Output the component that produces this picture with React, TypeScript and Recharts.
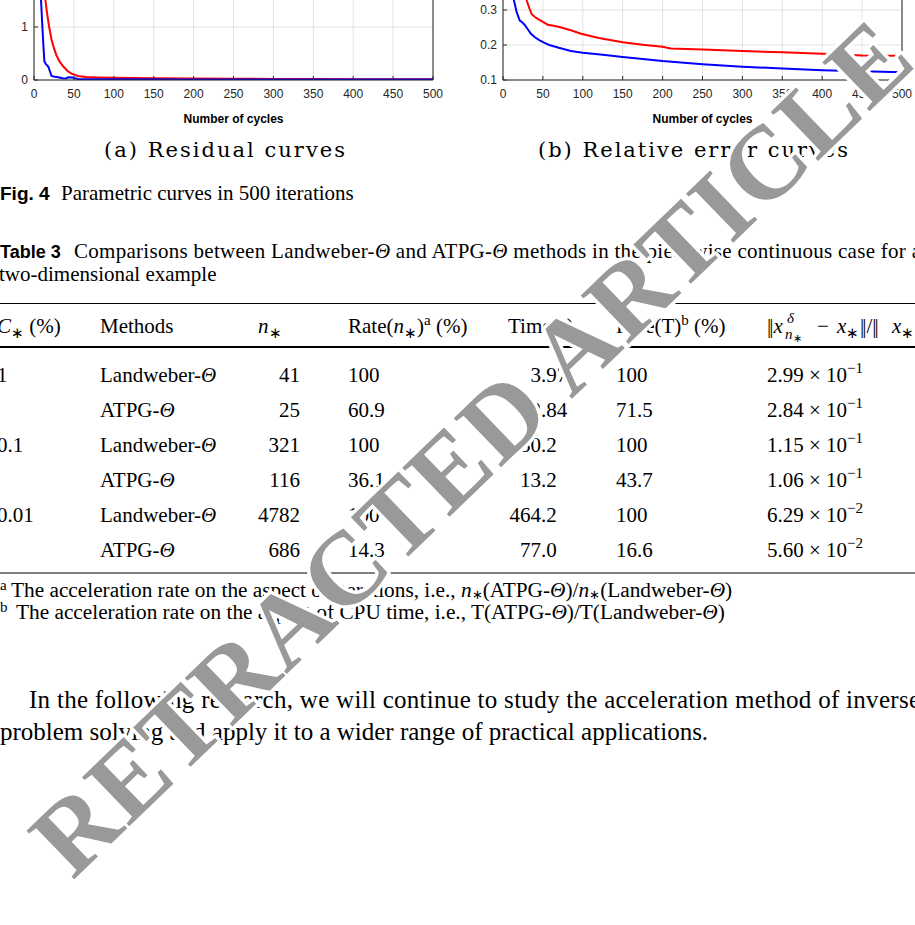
import { LineChart, Line, XAxis, YAxis, CartesianGrid, ReferenceLine } from "recharts"

// ---- chart data ----
const cycleTicks = [0, 50, 100, 150, 200, 250, 300, 350, 400, 450, 500]

const residualTicks = [0, 1, 2, 3]
const residualRedCycles = [0, 4, 8, 11, 14, 16, 19, 22, 25, 28, 32, 37, 42, 47, 55, 65, 80, 100, 150, 200, 250, 300, 350, 400, 450, 500]
const residualRed = [2.95, 2.75, 2.4, 2.0, 1.55, 1.3, 1.0, 0.76, 0.6, 0.47, 0.35, 0.25, 0.17, 0.12, 0.075, 0.055, 0.047, 0.042, 0.035, 0.03, 0.025, 0.021, 0.018, 0.016, 0.015, 0.014]
const residualBlueCycles = [0, 3, 6, 8, 9, 10.5, 12, 13, 15, 18, 20, 22, 26, 30, 36, 40, 43, 48, 55, 70, 100, 200, 300, 400, 500]
const residualBlue = [2.95, 2.6, 2.1, 1.7, 1.45, 1.0, 0.6, 0.35, 0.3, 0.25, 0.16, 0.075, 0.06, 0.05, 0.035, 0.03, 0.05, 0.045, 0.02, 0.015, 0.012, 0.01, 0.009, 0.008, 0.008]

const errorTicks = [0.1, 0.2, 0.3, 0.4, 0.5, 0.6]
const errorRedCycles = [0, 10, 20, 26, 30, 33, 36, 40, 44, 50, 56, 65, 73, 85, 98, 120, 150, 175, 200, 210, 250, 300, 350, 400, 450, 500]
const errorRed = [0.58, 0.5, 0.42, 0.36, 0.325, 0.305, 0.288, 0.28, 0.274, 0.266, 0.258, 0.254, 0.25, 0.242, 0.232, 0.22, 0.208, 0.201, 0.195, 0.19, 0.187, 0.183, 0.179, 0.175, 0.17, 0.169]
const errorBlueCycles = [0, 5, 10, 14, 17, 21, 24, 27, 31, 35, 40, 46, 52, 58, 70, 85, 100, 125, 150, 175, 200, 250, 300, 350, 400, 450, 500]
const errorBlue = [0.55, 0.45, 0.37, 0.325, 0.295, 0.27, 0.265, 0.258, 0.245, 0.232, 0.222, 0.213, 0.206, 0.2, 0.192, 0.183, 0.178, 0.172, 0.166, 0.16, 0.154, 0.145, 0.138, 0.133, 0.128, 0.125, 0.122]

// ---- table 3 ----
const noiseLevels = ["1", "", "0.1", "", "0.01", ""]
const methodNames = ["Landweber", "ATPG", "Landweber", "ATPG", "Landweber", "ATPG"]
const iterations = ["41", "25", "321", "116", "4782", "686"]
const iterRates = ["100", "60.9", "100", "36.1", "100", "14.3"]
const cpuTimes = ["3.97", "2.84", "30.2", "13.2", "464.2", "77.0"]
const timeRates = ["100", "71.5", "100", "43.7", "100", "16.6"]
const errMantissa = ["2.99", "2.84", "1.15", "1.06", "6.29", "5.60"]
const errExponent = ["−1", "−1", "−1", "−1", "−2", "−2"]

const SERIF = "'Liberation Serif', 'Times New Roman', serif"
const SANS = "'Liberation Sans', Arial, sans-serif"
const CAPTION = "'DejaVu Serif', serif"
const AXIS = "#262626"
const GRID = "#e2e2e2"

const pts = (xs: number[], ys: number[]) => xs.map((x, i) => ({ x, y: ys[i] }))

function CurvePanel(props: {
    left: number
    top: number
    height: number
    yWidth: number
    marginRight: number
    yDomain: [number, number]
    yTicks: number[]
    fmt: (v: number) => string
    red: { x: number; y: number }[]
    blue: { x: number; y: number }[]
}) {
    const { left, top, height, yWidth, marginRight, yDomain, yTicks, fmt, red, blue } = props
    return (
        <div style={{ position: "absolute", left, top }}>
            <LineChart width={460} height={height} margin={{ top: 6, right: marginRight, left: 4, bottom: 0 }}>
                <CartesianGrid stroke={GRID} />
                <XAxis
                    type="number"
                    dataKey="x"
                    domain={[0, 500]}
                    ticks={cycleTicks}
                    interval={0}
                    allowDataOverflow
                    height={50}
                    tickSize={-4}
                    tickMargin={13}
                    tickLine={{ stroke: AXIS }}
                    axisLine={{ stroke: AXIS }}
                    tick={{ fill: AXIS, fontSize: 12, fontFamily: SANS }}
                    label={{
                        value: "Number of cycles",
                        position: "insideBottom",
                        offset: 7,
                        fill: "#000",
                        fontSize: 12,
                        fontWeight: "bold",
                        fontFamily: SANS,
                    }}
                />
                <YAxis
                    type="number"
                    domain={yDomain}
                    ticks={yTicks}
                    interval={0}
                    allowDataOverflow
                    width={yWidth}
                    tickSize={-4}
                    tickMargin={10}
                    tickFormatter={fmt}
                    tickLine={{ stroke: AXIS }}
                    axisLine={{ stroke: AXIS }}
                    tick={{ fill: AXIS, fontSize: 12, fontFamily: SANS }}
                />
                <ReferenceLine x={500} stroke={AXIS} />
                <Line data={red} dataKey="y" type="linear" stroke="#ff0000" strokeWidth={2} dot={false} isAnimationActive={false} />
                <Line data={blue} dataKey="y" type="linear" stroke="#0000ff" strokeWidth={2} dot={false} isAnimationActive={false} />
            </LineChart>
        </div>
    )
}

const rowBase = [382, 417, 452, 487, 522, 557]
const SUB = 15

// double bar drawn from two plain bars so no fallback font is needed
function Norm() {
    return <tspan letterSpacing={-2}>|</tspan>
}

export default function App() {
    return (
        <div style={{ position: "absolute", left: 0, top: 0, width: 915, height: 925, overflow: "hidden", background: "#fff" }}>
            <CurvePanel
                left={0}
                top={-85}
                height={215}
                yWidth={30}
                marginRight={27}
                yDomain={[0, 3]}
                yTicks={residualTicks}
                fmt={(v) => String(v)}
                red={pts(residualRedCycles, residualRed)}
                blue={pts(residualBlueCycles, residualBlue)}
            />
            <CurvePanel
                left={455}
                top={-101}
                height={231}
                yWidth={44}
                marginRight={13}
                yDomain={[0.1, 0.6]}
                yTicks={errorTicks}
                fmt={(v) => v.toFixed(1)}
                red={pts(errorRedCycles, errorRed)}
                blue={pts(errorBlueCycles, errorBlue)}
            />

            <svg width={915} height={925} style={{ position: "absolute", left: 0, top: 0 }} fontFamily={SERIF} fontSize={21} fill="#000">
                {/* sub-captions */}
                <text x={104} y={157} fontFamily={CAPTION} fontSize={21} textLength={241} lengthAdjust="spacing">(a) Residual curves</text>
                <text x={538} y={157} fontFamily={CAPTION} fontSize={21} textLength={310} lengthAdjust="spacing">(b) Relative error curves</text>

                <text x={0} y={200} fontFamily={SANS} fontWeight="bold" fontSize={19}>Fig. 4</text>
                <text x={61} y={200}>Parametric curves in 500 iterations</text>

                <text x={0} y={258} fontFamily={SANS} fontWeight="bold" fontSize={18}>Table 3</text>
                <text x={74} y={258} textLength={847} lengthAdjust="spacing">
                    Comparisons between Landweber-<tspan fontStyle="italic">Θ</tspan> and ATPG-<tspan fontStyle="italic">Θ</tspan> methods in the piecewise continuous case for a
                </text>
                <text x={-1} y={281}>two-dimensional example</text>

                <rect x={0} y={303} width={915} height={1} fill="#000" />
                <rect x={0} y={346} width={915} height={2} fill="#000" />
                <rect x={0} y={572.5} width={915} height={1} fill="#000" />

                {/* header */}
                <text x={-3} y={333}>
                    <tspan fontStyle="italic">C</tspan>
                    <tspan fontSize={SUB} dy={5}>∗</tspan>
                    <tspan dy={-5}> (%)</tspan>
                </text>
                <text x={100} y={333}>Methods</text>
                <text x={258} y={333}>
                    <tspan fontStyle="italic">n</tspan>
                    <tspan fontSize={SUB} dy={5}>∗</tspan>
                </text>
                <text x={348} y={333}>
                    Rate(<tspan fontStyle="italic">n</tspan>
                    <tspan fontSize={SUB} dy={5}>∗</tspan>
                    <tspan dy={-5}>)</tspan>
                    <tspan fontSize={SUB} dy={-8}>a</tspan>
                    <tspan dy={8}> (%)</tspan>
                </text>
                <text x={508} y={333}>Time(s)</text>
                <text x={616} y={333}>
                    Rate(T)<tspan fontSize={SUB} dy={-8}>b</tspan>
                    <tspan dy={8}> (%)</tspan>
                </text>
                <text x={767} y={333}>
                    <Norm />|<tspan fontStyle="italic">x</tspan>
                </text>
                <text x={787} y={323} fontSize={SUB} fontStyle="italic">δ</text>
                <text x={785} y={339} fontSize={SUB}>
                    <tspan fontStyle="italic">n</tspan>
                    <tspan fontSize={11} dy={3}>∗</tspan>
                </text>
                <text x={817} y={333}>−</text>
                <text x={837} y={333}>
                    <tspan fontStyle="italic">x</tspan>
                    <tspan fontSize={SUB} dy={5}>∗</tspan>
                </text>
                <text x={860} y={333}>
                    <Norm />|/<Norm />|
                </text>
                <text x={892} y={333}>
                    <tspan fontStyle="italic">x</tspan>
                    <tspan fontSize={SUB} dy={5}>∗</tspan>
                    <tspan dy={-5}>
                        <Norm />|
                    </tspan>
                </text>

                {/* rows */}
                {rowBase.map((y, i) => {
                    const [whole, frac] = cpuTimes[i].split(".")
                    return (
                        <g key={i}>
                            {noiseLevels[i] && <text x={-3} y={y}>{noiseLevels[i]}</text>}
                            <text x={100} y={y}>
                                {methodNames[i]}-<tspan fontStyle="italic">Θ</tspan>
                            </text>
                            <text x={300} y={y} textAnchor="end">{iterations[i]}</text>
                            <text x={348} y={y}>{iterRates[i]}</text>
                            <text x={541} y={y} textAnchor="end">{whole}</text>
                            <text x={541} y={y}>.{frac}</text>
                            <text x={616} y={y}>{timeRates[i]}</text>
                            <text x={767} y={y}>
                                {errMantissa[i]} × 10<tspan fontSize={SUB} dy={-9}>{errExponent[i]}</tspan>
                            </text>
                        </g>
                    )
                })}

                {/* footnotes */}
                <text x={0} y={590} fontSize={SUB}>a</text>
                <text x={11} y={597} fontSize={21.3}>
                    The acceleration rate on the aspect of iterations, i.e., <tspan fontStyle="italic">n</tspan>
                    <tspan fontSize={13} dy={2}>∗</tspan>
                    <tspan dy={-2}>(ATPG-</tspan>
                    <tspan fontStyle="italic">Θ</tspan>
                    <tspan>)/</tspan>
                    <tspan fontStyle="italic">n</tspan>
                    <tspan fontSize={13} dy={2}>∗</tspan>
                    <tspan dy={-2}>(Landweber-</tspan>
                    <tspan fontStyle="italic">Θ</tspan>
                    <tspan>)</tspan>
                </text>
                <text x={0} y={612} fontSize={SUB}>b</text>
                <text x={16} y={619} fontSize={21.3}>
                    The acceleration rate on the aspect of CPU time, i.e., T(ATPG-<tspan fontStyle="italic">Θ</tspan>)/T(Landweber-<tspan fontStyle="italic">Θ</tspan>)
                </text>

                {/* paragraph */}
                <text x={29} y={708} fontSize={25} textLength={891} lengthAdjust="spacing">
                    In the following research, we will continue to study the acceleration method of inverse
                </text>
                <text x={0} y={740} fontSize={25}>
                    problem solving and apply it to a wider range of practical applications.
                </text>

                {/* watermark */}
                <text
                    x={496}
                    y={472}
                    transform="rotate(-44 496 472)"
                    textAnchor="middle"
                    fontFamily={SERIF}
                    fontWeight="bold"
                    fontSize={104}
                    letterSpacing={2}
                    fill="#999999"
                    stroke="#ffffff"
                    strokeWidth={7}
                    strokeLinejoin="round"
                    paintOrder="stroke"
                >
                    RETRACTED ARTICLE
                </text>
            </svg>
        </div>
    )
}
